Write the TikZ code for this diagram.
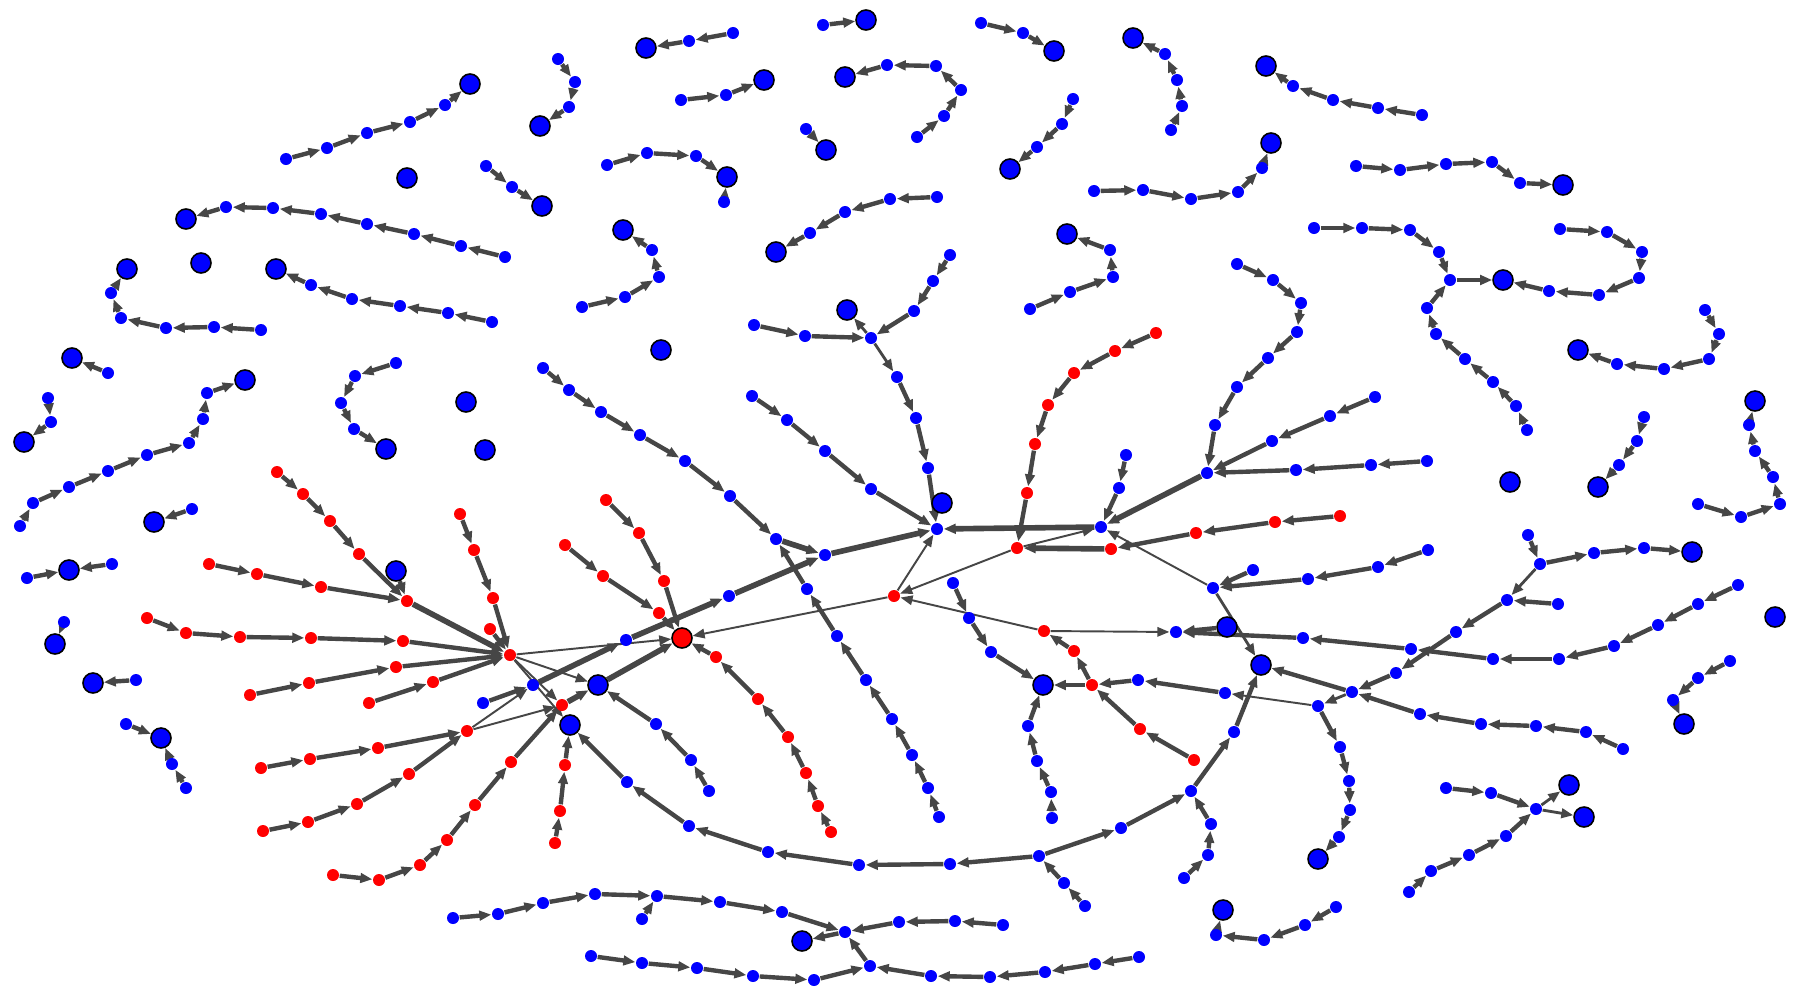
\documentclass[tikz,border=0pt]{standalone}
\usetikzlibrary{arrows.meta}
\pgfdeclarelayer{bg}
\pgfsetlayers{bg,main}
\definecolor{ec}{HTML}{464646}
\tikzset{
 smb/.style={circle,fill=blue,inner sep=0pt,minimum size=0.12cm},
 smr/.style={circle,fill=red,inner sep=0pt,minimum size=0.12cm},
 bgb/.style={circle,fill=blue,draw=black,line width=0.45pt,inner sep=0pt,minimum size=0.2cm},
 bgr/.style={circle,fill=red,draw=black,line width=0.45pt,inner sep=0pt,minimum size=0.2cm},
 ed/.style={draw=ec,line width=1.25pt,-{Triangle[length=0.12cm,width=0.095cm]}},
 edk/.style={ed,line width=1.6pt},
 edm/.style={ed,line width=0.8pt},
 edt/.style={ed,line width=0.55pt},
}
\newcommand\chn[2][ed]{\gdef\prv{}\foreach \cur in {#2}{\ifx\prv\empty\else\draw[#1] (\prv) -- (\cur);\fi\global\let\prv\cur}}
\begin{document}
\begin{tikzpicture}[x=0.01cm,y=-0.01cm]
\useasboundingbox (0,0) rectangle (1800,1000);
\foreach \n/\x/\y in {a1/286/159, a2/327/148, a3/367/133, a4/410/122, a5/445/105,
b1/226/207, b2/273/208, b3/321/214, b4/367/224, b5/414/234, b6/461/246, b7/505/257,
c1/111/293, c2/121/318, c3/166/328, c4/214/327, c5/261/330,
d1/311/285, d2/352/299, d3/400/306, d4/448/313, d5/492/322,
e1/558/59, e2/575/82, e3/569/107, f1/689/41, f2/733/33, g1/823/25,
h1/887/65, h2/936/66, h3/961/90, h4/944/116, h5/917/137,
k1/681/100, k2/726/95, l1/806/129, m1/486/166, m2/512/187,
n1/607/165, n2/647/153, n3/696/156, n4/724/202,
o1/652/250, o2/659/277, o3/625/297, o4/582/307,
p1/810/233, p2/845/212, p3/890/199, p4/937/197,
qj/871/338, q1/754/325, q2/805/336, q3/950/255, q4/933/281, q5/914/311, q6/897/377, q7/916/418, q8/928/468,
t1/981/23, t2/1023/33, u1/1165/54, u2/1177/80, u3/1182/106, u4/1171/130,
v1/1293/86, v2/1333/100, v3/1378/108, v4/1422/115,
w1/1073/99, w2/1062/124, w3/1037/147,
x1/1094/191, x2/1143/190, x3/1191/199, x4/1238/192, x5/1262/168,
y1/1356/166, y2/1400/170, y3/1446/164, y4/1492/162, y5/1520/183,
z1/1030/309, z2/1070/292, z3/1113/277, z4/1110/250,
aj/1450/280, aa1/1314/228, aa2/1362/228, aa3/1410/230, aa4/1439/252, aa5/1427/308, aa6/1436/334, aa7/1465/359, aa8/1493/382, aa9/1516/406, aa10/1527/430, aa11/1560/229, aa12/1607/232, aa13/1642/252, aa14/1639/278, aa15/1599/295, aa16/1549/291,
ab1/1705/310, ab2/1719/334, ab3/1709/359, ab4/1664/369, ab5/1617/364,
ac1/108/373, ad1/48/398, ad2/51/422,
ae1/20/526, ae2/33/503, ae3/69/487, ae4/108/471, ae5/147/455, ae6/189/443, ae7/203/419, ae8/207/393,
af1/396/363, af2/355/376, af3/341/403, af4/354/429,
ag1/192/509, ah1/27/578, ah2/112/564, ai1/64/622, aj1/136/680,
ak1/126/724, ak2/186/788, ak3/172/764,
bs1/533/685, bs2/483/703, bs3/626/640, bs4/729/596, bs5/825/555,
an1/709/791, an2/691/760, an3/656/724,
am1/1039/856, am2/950/864, am3/859/865, am4/768/852, am5/689/826, am6/627/782,
ch1/543/368, ch2/569/390, ch3/601/412, ch4/640/435, ch5/685/461, ch6/730/496, cj/776/539,
cv1/939/817, cv2/928/788, cv3/912/755, cv4/892/719, cv5/866/680, cv6/837/636, cv7/807/589,
cw1/752/396, cw2/787/420, cw3/825/451, cw4/871/489,
hub/937/529, hb2/1101/527, hb3/1207/473, hb2a/1126/455, hb2b/1119/488,
h3a/1237/264, h3b/1273/280, h3c/1301/303, h3d/1297/332, h3e/1268/358, h3f/1237/387, h3g/1215/425,
h3h/1375/397, h3i/1330/416, h3j/1272/441, h3k/1427/461, h3l/1371/465, h3m/1296/470,
bj/1213/588, bja/1253/570, bjb/1308/579, bjc/1378/567, bjd/1428/550,
bq/1176/632, bl1/953/583, bl2/969/618, bl3/991/652,
ar1/1028/726, ar2/1037/761, ar3/1051/792, ar4/1052/818,
bt/1303/638, bt1/1411/649, bt2/1493/659, bt3/1559/659, bt4/1614/646, bt5/1658/625, bt6/1698/604, bt7/1738/585,
hb4/1540/564, h4a/1528/535, h4b/1594/553, h4c/1644/548,
gg1/1507/600, gg2/1558/604, gg3/1456/632, gg4/1396/673, gg5/1352/692,
gg6/1420/714, gg7/1481/724, gg8/1536/726, gg9/1586/732, gg10/1623/749,
gg11/1318/706, gg12/1225/693, gg13/1138/680,
gg14/1340/747, gg15/1349/781, gg16/1350/810, gg17/1339/837,
kk1/1234/732, kk2/1191/791, kk3/1121/828, kk4/1064/883, kk5/1085/906, kk6/1211/824, kk7/1208/855, kk8/1184/878,
au1/1216/935, au2/1264/940, au3/1305/925, au4/1336/907,
j5/845/932, bb1/453/918, bb2/498/914, bb3/543/903, bb4/595/894, bb5/657/896, bb6/720/902, bb7/782/912, bb8/642/919,
bc1/1003/925, bc2/955/921, bc3/899/922,
j6/870/966, bd1/591/956, bd2/642/963, bd3/697/968, bd4/753/976, bd5/814/980,
be1/1139/957, be2/1095/964, be3/1045/972, be4/990/977, be5/931/976,
aw1/1644/417, aw2/1637/441, aw3/1619/465,
ax1/1698/504, ax2/1741/517, ax3/1780/504, ax4/1773/477, ax5/1755/451, ax6/1749/425,
ay1/1730/661, ay2/1698/678, ay3/1673/700,
hb5/1536/809, h5a/1446/788, h5b/1491/793, h5c/1409/892, h5d/1431/871, h5e/1469/855, h5f/1506/836}
 \node[smb] (\n) at (\x,\y) {};
\foreach \n/\x/\y in {rj/407/601, r1a/277/472, r1b/303/494, r1c/330/521, r1d/359/554, r2a/209/564, r2b/257/574, r2c/321/587,
hr/510/655, r3a/147/618, r3b/186/633, r3c/240/637, r3d/311/638, r3e/403/641,
r4a/250/695, r4b/309/683, r4c/396/667, r5a/369/703, r5b/433/682,
r6a/460/514, r6b/474/550, r6c/493/598, r7/490/629,
rk/467/731, r8a/261/768, r8b/310/759, r8c/378/748, r9a/263/831, r9b/308/822, r9c/357/804, r9d/409/774,
rm/562/705, r10a/333/875, r10b/379/880, r10c/420/865, r10d/447/840, r10e/475/805, r10f/511/762,
r11a/555/843, r11b/560/811, r11c/565/765,
r12a/606/500, r12b/639/533, r12c/664/581, r13a/565/545, r13b/603/576, r13c/659/613,
r14a/831/832, r14b/818/806, r14c/806/773, r14d/788/737, r14e/758/699, r14f/716/657,
rq/1017/548, rqa/1340/516, rqb/1275/522, rqc/1196/533, rqd/1111/549,
rqe/1156/333, rqf/1115/351, rqg/1074/373, rqh/1048/405, rqi/1035/444, rqj/1027/493,
rp/894/596, rs/1044/631, r651/1074/651, rx/1092/685, rxa/1194/760, rxb/1140/729}
 \node[smr] (\n) at (\x,\y) {};
\foreach \n/\x/\y in {A/470/84, I1/407/178, B/186/219, C/127/269, I2/201/263, D/276/269, E/540/126, F/646/48, G/866/20, H/845/77, K/764/80, L/826/150, M/542/206, N/727/177, O/623/230, P/776/252, Q/847/310, S/942/503, T/1054/51, U/1133/38, V/1266/66, W/1010/169, X/1271/143, Y/1563/185, Z/1067/234, AA/1503/280, AB/1578/350, AC/72/358, AD/24/442, AE/245/380, AF/386/449, AG/154/522, AH/69/570, AI/55/644, AJ/93/683, AK/161/738, I3/466/402, I4/485/450, I5/661/350, AL/396/571, AM/570/725, AN/598/685, AP/1261/665, AQ/1227/627, AR/1043/685, AS/1692/552, AT/1318/859, AU/1223/910, AV/802/941, BI/1510/482, AW/1598/487, AX/1755/401, BJ/1775/617, AY/1684/724, AZ/1569/785, BA/1584/817}
 \node[bgb] (\n) at (\x,\y) {};
\node[bgr] (AO) at (682,638) {};
\begin{pgfonlayer}{bg}
\chn{a1,a2,a3,a4,a5,A}
\chn{b7,b6,b5,b4,b3,b2,b1,B}
\chn{c5,c4,c3,c2,c1,C}
\chn{d5,d4,d3,d2,d1,D}
\chn{e1,e2,e3,E}
\chn{f2,f1,F}
\chn{g1,G}
\chn{h5,h4,h3,h2,h1,H}
\chn{k1,k2,K}
\chn{l1,L}
\chn{m1,m2,M}
\chn{n1,n2,n3,N}\chn{n4,N}
\chn{o4,o3,o2,o1,O}
\chn{p4,p3,p2,p1,P}
\chn{q1,q2,qj}\chn{q3,q4,q5,qj}\chn[edm]{qj,Q}\chn[edm]{qj,q6}\chn{q6,q7,q8,hub}
\chn{t1,t2,T}
\chn{u4,u3,u2,u1,U}
\chn{v4,v3,v2,v1,V}
\chn{w1,w2,w3,W}
\chn{x1,x2,x3,x4,x5,X}
\chn{y1,y2,y3,y4,y5,Y}
\chn{z1,z2,z3,z4,Z}
\chn{aa1,aa2,aa3,aa4,aj,AA}\chn{aa10,aa9,aa8,aa7,aa6,aa5,aj}\chn{aa11,aa12,aa13,aa14,aa15,aa16,AA}
\chn{ab1,ab2,ab3,ab4,ab5,AB}
\chn{ac1,AC}
\chn{ad1,ad2,AD}
\chn{ae1,ae2,ae3,ae4,ae5,ae6,ae7,ae8,AE}
\chn{af1,af2,af3,af4,AF}
\chn{ag1,AG}
\chn{ah1,AH}\chn{ah2,AH}
\chn{ai1,AI}
\chn{aj1,AJ}
\chn{ak1,AK}\chn{ak2,ak3,AK}
\chn{r1a,r1b,r1c,r1d,rj}\chn{r2a,r2b,r2c,rj}\chn{AL,rj}\chn[edk]{rj,hr}
\chn{r3a,r3b,r3c,r3d,r3e,hr}
\chn{r4a,r4b,r4c,hr}
\chn{r5a,r5b,hr}
\chn{r6a,r6b,r6c,hr}
\chn{r7,hr}
\chn{r8a,r8b,r8c,rk}\chn{r9a,r9b,r9c,r9d,rk}
\chn{r10a,r10b,r10c,r10d,r10e,r10f,rm}
\chn{r11a,r11b,r11c,AM}
\chn[edt]{hr,rm}\chn[edt]{hr,AM}\chn[edt]{hr,AN}\chn[edt]{hr,AO}
\chn[edt]{rk,rm}\chn[edt]{rk,bs1}
\chn{bs2,bs1}\chn[edk]{bs1,bs3,bs4,bs5,hub}
\chn[edk]{rm,AN,AO}
\chn{an1,an2,an3,AN}
\chn{am1,am2,am3,am4,am5,am6,AM}
\chn{r12a,r12b,r12c,AO}\chn{r13a,r13b,r13c,AO}
\chn{r14a,r14b,r14c,r14d,r14e,r14f,AO}
\chn{ch1,ch2,ch3,ch4,ch5,ch6,cj}\chn[edk]{cj,bs5}
\chn{cv1,cv2,cv3,cv4,cv5,cv6,cv7,cj}
\chn{cw1,cw2,cw3,cw4,hub}
\chn[edk]{hb3,hb2,hub}
\chn{hb2a,hb2b,hb2}
\chn{h3a,h3b,h3c,h3d,h3e,h3f,h3g,hb3}\chn{h3h,h3i,h3j,hb3}\chn{h3k,h3l,h3m,hb3}
\chn{rqa,rqb,rqc,rqd}\chn[edk]{rqd,rq}
\chn{rqe,rqf,rqg,rqh,rqi,rqj,rq}
\chn[edt]{rq,hb2}\chn[edt]{rq,rp}\chn[edt]{rp,hub}\chn[edt]{rp,AO}\chn[edt]{rs,rp}\chn[edt]{rs,bq}
\chn{rx,r651,rs}\chn{rxa,rxb,rx}\chn{gg13,rx}\chn{rx,AR}
\chn[edt]{bj,hb2}\chn{bja,bj}\chn{bjd,bjc,bjb,bj}\chn[edm]{bj,AP}
\chn{AQ,bq}\chn{bt,bq}\chn{bt7,bt6,bt5,bt4,bt3,bt2,bt1,bt}
\chn{bl1,bl2,bl3,AR}
\chn{ar4,ar3,ar2,ar1,AR}
\chn{h4a,hb4}\chn{hb4,h4b,h4c,AS}\chn[edm]{hb4,gg1}\chn{gg2,gg1}\chn{gg1,gg3,gg4,gg5}\chn{gg5,AP}
\chn{gg10,gg9,gg8,gg7,gg6,gg5}\chn[edm]{gg5,gg11}\chn[edt]{gg11,gg12}\chn{gg12,gg13}
\chn{gg11,gg14,gg15,gg16,gg17,AT}
\chn{kk3,kk2,kk1,AP}\chn{kk5,kk4,am1}\chn{am1,kk3}\chn{kk8,kk7,kk6,kk2}
\chn{au4,au3,au2,au1,AU}
\chn{bb1,bb2,bb3,bb4,bb5,bb6,bb7,j5,AV}\chn{bb8,bb5}
\chn{bc1,bc2,bc3,j5}
\chn{bd1,bd2,bd3,bd4,bd5,j6,j5}
\chn{be1,be2,be3,be4,be5,j6}
\chn{aw1,aw2,aw3,AW}
\chn{ax1,ax2,ax3,ax4,ax5,ax6,AX}
\chn{ay1,ay2,ay3,AY}
\chn{h5a,h5b,hb5}\chn[edm]{hb5,AZ}\chn[edm]{hb5,BA}\chn{h5c,h5d,h5e,h5f,hb5}
\end{pgfonlayer}
\end{tikzpicture}
\end{document}
